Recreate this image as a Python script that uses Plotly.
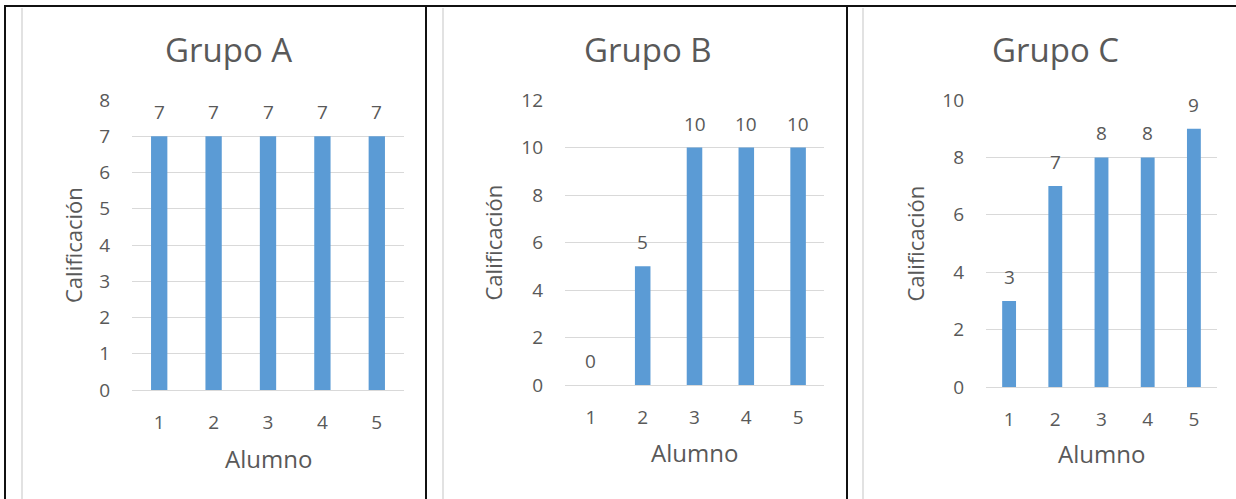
import plotly.graph_objects as go

# ---- data ----
alumnos = [1, 2, 3, 4, 5]
grupo_a = [7, 7, 7, 7, 7]
grupo_b = [0, 5, 10, 10, 10]
grupo_c = [3, 7, 8, 8, 9]
titulos = ["Grupo A", "Grupo B", "Grupo C"]
y_max = [8, 12, 10]
y_dtick = [1, 2, 2]
x_label = "Alumno"
y_label = "Calificación"

W, H = 1236, 499
FONT = "Open Sans"
TXT = "#595959"
BAR = "#5B9BD5"
GRID = "#D9D9D9"

def fx(x):
    return x / W

def fy(y):
    return 1 - y / H

# plot-area boxes in pixels: (x0, x1, y_bottom, y_top)
boxes = [(132, 404, 390, 100), (565, 824, 385, 100), (986, 1217, 387, 100)]
title_x = [228, 648, 1055]
ytitle_x = [73, 492, 914]
xtitle_y = [458, 452, 453]
series = [grupo_a, grupo_b, grupo_c]

fig = go.Figure()
annotations = []
for i, (vals, box) in enumerate(zip(series, boxes)):
    sfx = "" if i == 0 else str(i + 1)
    xa, ya = "x" + sfx, "y" + sfx
    fig.add_trace(go.Bar(x=alumnos, y=vals, xaxis=xa, yaxis=ya,
                         marker=dict(color=BAR, line=dict(width=0)),
                         width=0.3, showlegend=False, hoverinfo="x+y"))
    x0, x1, yb, yt = box
    fig.update_layout(**{
        "xaxis" + sfx: dict(domain=[fx(x0), fx(x1)], anchor=ya, range=[0.5, 5.5],
                            tickvals=alumnos, showgrid=False, zeroline=False,
                            showline=False, ticks="", ticklabelstandoff=19,
                            automargin=False,
                            tickfont=dict(family=FONT, size=19, color=TXT),
                            fixedrange=True),
        "yaxis" + sfx: dict(domain=[fy(yb), fy(yt)], anchor=xa, range=[0, y_max[i]],
                            dtick=y_dtick[i], showgrid=True, gridcolor=GRID,
                            gridwidth=1, zeroline=True, zerolinecolor=GRID,
                            zerolinewidth=1, showline=False, ticks="",
                            ticklabelstandoff=21, automargin=False,
                            tickfont=dict(family=FONT, size=19, color=TXT),
                            fixedrange=True),
    })
    # data labels
    for a, v in zip(alumnos, vals):
        annotations.append(dict(x=a, y=v, xref=xa, yref=ya, text=str(v),
                                showarrow=False, yanchor="middle", yshift=24,
                                font=dict(family=FONT, size=19, color=TXT)))
    # chart title
    annotations.append(dict(x=fx(title_x[i]), y=fy(50), xref="paper", yref="paper",
                            text=titulos[i], showarrow=False, xanchor="center",
                            yanchor="middle",
                            font=dict(family=FONT, size=33, color=TXT)))
    # x axis title
    annotations.append(dict(x=0.5, y=fy(xtitle_y[i]), xref=xa + " domain", yref="paper",
                            text=x_label, showarrow=False, xanchor="center",
                            yanchor="middle",
                            font=dict(family=FONT, size=24, color=TXT)))
    # y axis title
    annotations.append(dict(x=fx(ytitle_x[i]), y=0.5, xref="paper", yref=ya + " domain",
                            text=y_label, showarrow=False, textangle=-90,
                            xanchor="center", yanchor="middle",
                            font=dict(family=FONT, size=22, color=TXT)))

shapes = []
# light gray chart-area borders
for gx in [22, 443, 863]:
    shapes.append(dict(type="line", xref="paper", yref="paper",
                       x0=fx(gx), x1=fx(gx), y0=0, y1=fy(8),
                       line=dict(color=GRID, width=1.5)))
# black frame lines
shapes.append(dict(type="line", xref="paper", yref="paper",
                   x0=fx(4), x1=1, y0=fy(6), y1=fy(6),
                   line=dict(color="#111111", width=2)))
for bx in [5, 426, 847]:
    shapes.append(dict(type="line", xref="paper", yref="paper",
                       x0=fx(bx), x1=fx(bx), y0=0, y1=fy(6),
                       line=dict(color="#111111", width=2)))

fig.update_layout(width=W, height=H, margin=dict(l=0, r=0, t=0, b=0, pad=0),
                  paper_bgcolor="white", plot_bgcolor="white",
                  annotations=annotations, shapes=shapes,
                  font=dict(family=FONT, color=TXT), showlegend=False)

fig.write_html("out.html", config={"displayModeBar": False},
               post_script="document.body.style.margin='0';document.body.style.overflow='hidden';")
